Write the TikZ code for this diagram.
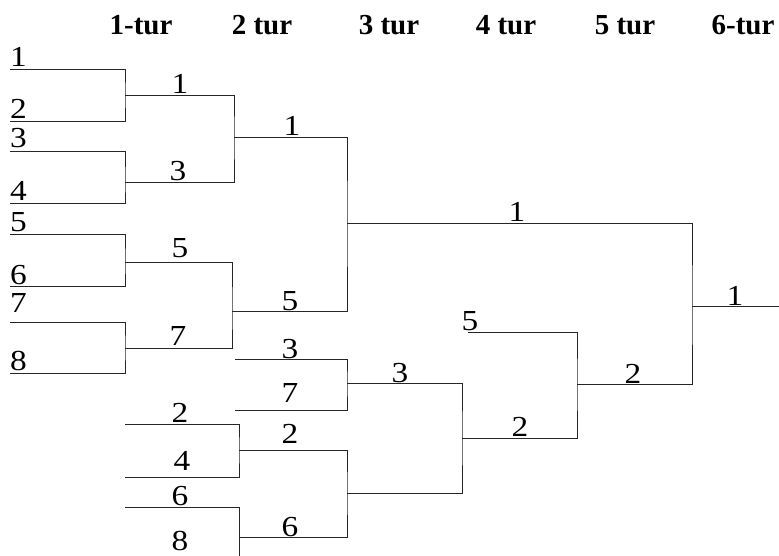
\documentclass[tikz,border=0pt]{standalone}
\usepackage{fontspec}
\setmainfont{Liberation Serif}
\newfontfamily\digfont[FakeStretch=1.15]{Liberation Serif}
\begin{document}
\begin{tikzpicture}[x=1pt,y=-1pt,
  br/.style={draw=black!85,line width=0.9pt},
  lab/.style={anchor=base,inner sep=0pt,font=\digfont\fontsize{29}{29}\selectfont},
  plab/.style={anchor=base west,inner sep=0pt,font=\digfont\fontsize{29}{29}\selectfont},
  hd/.style={anchor=base,inner sep=0pt,font=\fontsize{29}{29}\selectfont\bfseries}]
\useasboundingbox (0,0) rectangle (779,556);
% headers
\node[hd] (h1) at (141,35) {1-tur};
\node[hd] (h2) at (262,35) {2 tur};
\node[hd] (h3) at (389,35) {3 tur};
\node[hd] (h4) at (506,35) {4 tur};
\node[hd] (h5) at (625,35) {5 tur};
\node[hd] (h6) at (743,35) {6-tur};
% player lines
\coordinate (s1) at (10,69);  \coordinate (s2) at (10,121);
\coordinate (s3) at (10,151); \coordinate (s4) at (10,203);
\coordinate (s5) at (10,234); \coordinate (s6) at (10,286);
\coordinate (s7) at (10,322); \coordinate (s8) at (10,373);
\coordinate (ja) at (125,95);  \coordinate (jb) at (125,182);
\coordinate (jc) at (125,262); \coordinate (jd) at (125,348);
\draw[br] (s1) -| (ja) |- (s2);
\draw[br] (s3) -| (jb) |- (s4);
\draw[br] (s5) -| (jc) |- (s6);
\draw[br] (s7) -| (jd) |- (s8);
\coordinate (ka) at (234,137); \coordinate (kb) at (232,311);
\draw[br] (ja) -| (ka) |- (jb);
\draw[br] (jc) -| (kb) |- (jd);
\coordinate (la) at (347,223);
\draw[br] (ka) -| (la) |- (kb);
% lower bracket
\coordinate (t3) at (235,359); \coordinate (t7) at (235,410);
\coordinate (le) at (347,383);
\draw[br] (t3) -| (le) |- (t7);
\coordinate (u2) at (125,424); \coordinate (u4) at (125,477);
\coordinate (kf) at (239,450);
\draw[br] (u2) -| (kf) |- (u4);
\coordinate (u6) at (125,507); \coordinate (u8) at (239,556);
\coordinate (kg) at (239,537);
\draw[br] (u6) -| (u8);
\coordinate (lf) at (347,493);
\draw[br] (kf) -| (lf) |- (kg);
\coordinate (mf) at (462,438);
\draw[br] (le) -| (mf) |- (lf);
\coordinate (v5) at (468,332);
\coordinate (nf) at (577,384);
\draw[br] (v5) -| (nf) |- (mf);
\coordinate (fin) at (692,306);
\coordinate (endp) at (779,306);
\draw[br] (la) -| (fin) |- (nf);
\draw[br] (fin) -- (endp);
% player labels
\node[plab] (n1) at (10,67) {1};
\node[plab] (n2) at (10,119) {2};
\node[plab] (n3) at (10,148) {3};
\node[plab] (n4) at (10,201) {4};
\node[plab] (n5) at (10,232) {5};
\node[plab] (n6) at (10,284) {6};
\node[plab] (n7) at (10,312) {7};
\node[plab] (n8) at (10,370) {8};
% round 1 labels
\node[lab] (r1a) at (180,94) {1};
\node[lab] (r1b) at (178,181) {3};
\node[lab] (r1c) at (180,257) {5};
\node[lab] (r1d) at (178,345) {7};
\node[lab] (q2) at (180,422) {2};
\node[lab] (q4) at (182,470) {4};
\node[lab] (q6) at (180,505) {6};
\node[lab] (q8) at (180,550) {8};
% round 2 labels
\node[lab] (r2a) at (292,136) {1};
\node[lab] (r2b) at (290,310) {5};
\node[lab] (r2c) at (290,358) {3};
\node[lab] (r2d) at (290,402) {7};
\node[lab] (r2e) at (290,443) {2};
\node[lab] (r2f) at (290,536) {6};
% later rounds
\node[lab] (r3a) at (517,222) {1};
\node[lab] (r3b) at (400,382) {3};
\node[lab] (r3c) at (470,330) {5};
\node[lab] (r4a) at (520,436) {2};
\node[lab] (r5a) at (633,383) {2};
\node[lab] (r6a) at (735,305) {1};
\end{tikzpicture}
\end{document}
